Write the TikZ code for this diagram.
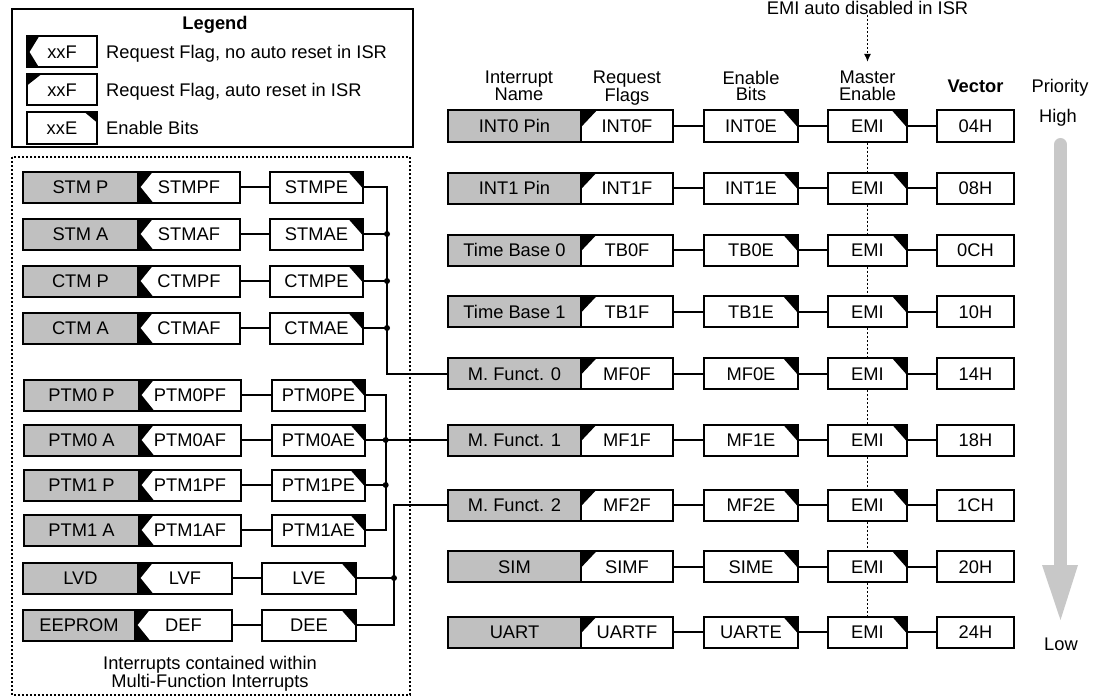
\documentclass[tikz,border=0pt]{standalone}
\usepackage{fontspec}
\setmainfont{Liberation Sans}
\usetikzlibrary{calc,arrows.meta}
\definecolor{namegray}{HTML}{C0C0C0}
\definecolor{priogray}{HTML}{C8C8C8}
\newcommand\diagfont{\fontsize{18.3}{16.5}\selectfont}
\tikzset{
  bx/.style={draw, line width=2pt, fill=white, minimum height=31pt, text height=13.5pt, text depth=0pt, inner sep=0pt},
  lbx/.style={bx, minimum height=23pt, minimum width=70pt},
  namebox/.style={bx, fill=namegray},
  flagnr/.style={bx, path picture={\fill[black] (path picture bounding box.north west) -- ++(#1,0pt) -- ($(path picture bounding box.west)+(2.5pt,0pt)$) -- ($(path picture bounding box.south west)+(#1,0pt)$) -- (path picture bounding box.south west) -- cycle;}},
  flagar/.style 2 args={bx, path picture={\fill[black] (path picture bounding box.north west) -- ++(#1,0pt) -- ($(path picture bounding box.north west)+(0pt,-#2)$) -- cycle;}},
  enb/.style 2 args={bx, path picture={\fill[black] (path picture bounding box.north east) -- ++(-#1,0pt) -- ($(path picture bounding box.north east)+(0pt,-#2)$) -- cycle;}},
  conn/.style={line width=2pt},
  dotline/.style={line width=1.8pt, dash pattern=on 2pt off 2pt},
  jdot/.style={fill=black},
  lbl/.style={text height=13.5pt, text depth=0pt, inner sep=0pt, anchor=west},
  hdr/.style={anchor=north, align=center, inner sep=0pt},
}
\begin{document}
\begin{tikzpicture}[x=1pt,y=-1pt,font=\diagfont]
\useasboundingbox (0,0) rectangle (1097,698);

% ---------------- Legend ----------------
\node[draw, line width=2pt, minimum width=401pt, minimum height=137.5pt, inner sep=0pt] (legendbox) at (212.2,78.25) {};
\node[anchor=base, inner sep=0pt, font=\diagfont\bfseries] (legtitle) at (215,30) {Legend};
\node[lbx, flagnr=12pt] (lg1) at (62,52) {xxF};
\node[lbl] (lg1t) at (106,52) {Request Flag, no auto reset in ISR};
\node[lbx, flagar={14pt}{11pt}] (lg2) at (62,90) {xxF};
\node[lbl] (lg2t) at (106,90) {Request Flag, auto reset in ISR};
\node[lbx, enb={12pt}{10pt}] (lg3) at (62,128) {xxE};
\node[lbl] (lg3t) at (106,128) {Enable Bits};

% ---------------- Multi-function group ----------------
\draw[dotline] (12,157) rectangle (410,695);
\node[hdr, font=\fontsize{18.3}{18}\selectfont] (mftxt) at (210,656.5) {Interrupts contained within\\Multi-Function Interrupts};

\foreach \k/\y/\nm/\rf/\eb in {stmp/187/STM P/STMPF/STMPE, stma/234/STM A/STMAF/STMAE, ctmp/281/CTM P/CTMPF/CTMPE, ctma/328/CTM A/CTMAF/CTMAE}{
  \node[namebox, minimum width=115pt] (\k n) at (80.5,\y) {\nm};
  \node[flagnr=15pt, minimum width=102pt] (\k f) at (189,\y) {\rf};
  \node[enb={15pt}{17pt}, minimum width=93pt] (\k e) at (316.5,\y) {\eb};
  \draw[conn] (\k f.east) -- (\k e.west);
}
\foreach \k/\y/\nm/\rf/\eb in {ptmzp/395/PTM0 P/PTM0PF/PTM0PE, ptmza/440/PTM0 A/PTM0AF/PTM0AE, ptmop/485/PTM1 P/PTM1PF/PTM1PE, ptmoa/530/PTM1 A/PTM1AF/PTM1AE}{
  \node[namebox, minimum width=115pt] (\k n) at (81.5,\y) {\nm};
  \node[flagnr=15pt, minimum width=102pt] (\k f) at (190,\y) {\rf};
  \node[enb={15pt}{17pt}, minimum width=93pt] (\k e) at (318.5,\y) {\eb};
  \draw[conn] (\k f.east) -- (\k e.west);
}
\node[namebox, minimum width=115pt] (lvdn) at (80.5,578) {LVD};
\node[flagnr=15pt, minimum width=94pt] (lvdf) at (185,578) {LVF};
\node[enb={15pt}{17pt}, minimum width=94pt] (lvde) at (309,578) {LVE};
\draw[conn] (lvdf.east) -- (lvde.west);
\node[namebox, minimum width=112pt] (eepn) at (79,625) {EEPROM};
\node[flagnr=15pt, minimum width=97pt] (eepf) at (183.5,625) {DEF};
\node[enb={15pt}{17pt}, minimum width=94pt] (eepe) at (309,625) {DEE};
\draw[conn] (eepf.east) -- (eepe.west);

% ---------------- Right side ----------------
\node[anchor=base, inner sep=0pt] (emitxt) at (867.5,15) {EMI auto disabled in ISR};
\coordinate (emiarr) at (867.5,62);
\draw[dotline, -{Latex[length=8pt,width=7pt]}] (emitxt.south) -- (emiarr);

\node[hdr] (h1) at (519,71) {Interrupt\\Name};
\node[hdr] (h2) at (627,71) {Request\\Flags};
\node[hdr] (h3) at (751,71) {Enable\\Bits};
\node[hdr] (h4) at (867.5,71) {Master\\Enable};
\node[anchor=base, inner sep=0pt, font=\diagfont\bfseries] (h5) at (975.5,92.5) {Vector};
\node[anchor=base, inner sep=0pt] (h6) at (1060,92.5) {Priority};
\node[anchor=base, inner sep=0pt] (high) at (1058,123) {High};
\node[anchor=base, inner sep=0pt] (low) at (1061,650) {Low};

\foreach \i/\y/\nm/\rf/\eb/\vv in {1/126/INT0 Pin/INT0F/INT0E/04H, 2/188/INT1 Pin/INT1F/INT1E/08H, 3/250/Time Base 0/TB0F/TB0E/0CH, 4/311.5/Time Base 1/TB1F/TB1E/10H, 5/373.5/M. Funct. 0/MF0F/MF0E/14H, 6/440/M. Funct. 1/MF1F/MF1E/18H, 7/505/M. Funct. 2/MF2F/MF2E/1CH, 8/566.5/SIM/SIMF/SIME/20H, 9/632/UART/UARTF/UARTE/24H}{
  \node[namebox, minimum width=132.4pt] (n\i) at (514.5,\y) {\nm};
  \node[flagar={16pt}{17pt}, minimum width=92.6pt] (f\i) at (627,\y) {\rf};
  \node[enb={15pt}{17pt}, minimum width=94pt] (e\i) at (751,\y) {\eb};
  \node[enb={15pt}{17pt}, minimum width=79pt] (m\i) at (867.5,\y) {EMI};
  \node[bx, minimum width=77pt] (v\i) at (975.5,\y) {\vv};
  \draw[conn] (f\i.east) -- (e\i.west);
  \draw[conn] (e\i.east) -- (m\i.west);
  \draw[conn] (m\i.east) -- (v\i.west);
}
\foreach \i [evaluate=\i as \j using int(\i+1)] in {1,...,8}{
  \draw[dotline] (m\i.south) -- (m\j.north);
}

% priority arrow
\draw[priogray, line width=13pt, line cap=round] (1060.5,144.5) -- (1060.5,567);
\fill[priogray] (1042,565) -- (1078,565) -- (1060.5,620) -- cycle;

% ---------------- Buses ----------------
\coordinate (bA) at (387,0);
\coordinate (bB) at (385.7,0);
\coordinate (bC) at (394,0);
\draw[conn] (stmpe.east) -| (bA |- n5.west) -- (n5.west);
\foreach \k in {stma,ctmp,ctma}{
  \draw[conn] (\k e.east) -- (\k e.east -| bA);
  \fill[jdot] (\k e.east -| bA) circle (3pt);
}
\draw[conn] (ptmzpe.east) -| (bB |- ptmoae.east) -- (ptmoae.east);
\draw[conn] (ptmzae.east) -- (n6.west);
\fill[jdot] (ptmzae.east -| bB) circle (3pt);
\draw[conn] (ptmope.east) -- (ptmope.east -| bB);
\fill[jdot] (ptmope.east -| bB) circle (3pt);
\draw[conn] (eepe.east) -| (bC |- n7.west) -- (n7.west);
\draw[conn] (lvde.east) -- (lvde.east -| bC);
\fill[jdot] (lvde.east -| bC) circle (3pt);
\end{tikzpicture}
\end{document}
